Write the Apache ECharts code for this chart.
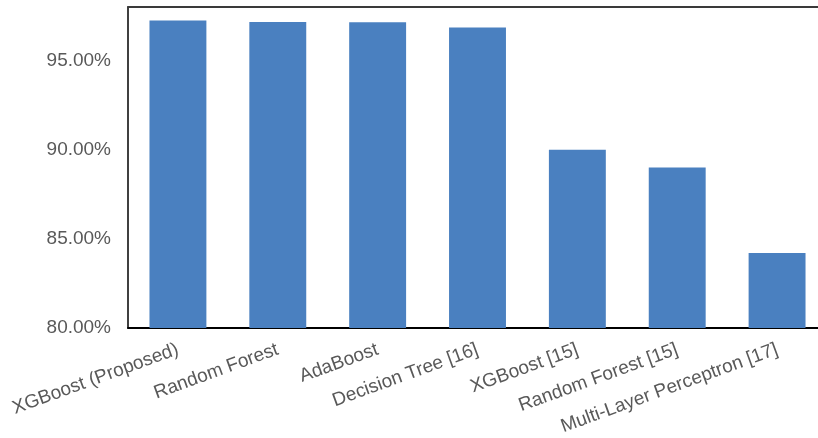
<!DOCTYPE html>
<html>
<head>
<meta charset="utf-8">
<script src="https://cdn.jsdelivr.net/npm/echarts@6/dist/echarts.min.js"></script>
<style>
  html, body { margin: 0; padding: 0; background: #fff; overflow: hidden; }
  /* the plot area runs a little past the right edge of the window */
  #chart { width: 827px; height: 438px; }
</style>
</head>
<body>
<div id="chart"></div>
<script>
// Model names and their accuracy (%)
const models = [
  'XGBoost (Proposed)',
  'Random Forest',
  'AdaBoost',
  'Decision Tree [16]',
  'XGBoost [15]',
  'Random Forest [15]',
  'Multi-Layer Perceptron [17]'
];
const accuracy = [97.24, 97.16, 97.15, 96.85, 90.0, 89.0, 84.2];

// Value axis range
const yMin = 80;
const yMax = 98;
const yStep = 5;

const chart = echarts.init(document.getElementById('chart'), null, { renderer: 'canvas' });

const labelFont = 'Liberation Sans, Arial, sans-serif';

chart.setOption({
  animation: false,
  backgroundColor: '#ffffff',
  grid: { left: 128, right: 0, top: 7, bottom: 110 },
  xAxis: [
    {
      type: 'category',
      data: models,
      axisLine: { show: true, lineStyle: { color: '#000000', width: 2 } },
      axisTick: { show: false },
      axisLabel: {
        interval: 0,
        rotate: 20,
        margin: 21,
        color: '#595959',
        fontFamily: labelFont,
        fontSize: 19
      }
    },
    {
      type: 'category',
      position: 'top',
      data: models,
      axisLine: { show: true, lineStyle: { color: '#3a3a3a', width: 2 } },
      axisTick: { show: false },
      axisLabel: { show: false }
    }
  ],
  yAxis: {
    type: 'value',
    min: yMin,
    max: yMax,
    interval: yStep,
    axisLine: { show: true, lineStyle: { color: '#000000', width: 1.5 } },
    axisTick: { show: false },
    splitLine: { show: false },
    axisLabel: {
      showMaxLabel: false,
      margin: 17,
      color: '#595959',
      fontFamily: labelFont,
      fontSize: 19,
      formatter: v => v.toFixed(2) + '%'
    }
  },
  series: [{
    type: 'bar',
    data: accuracy,
    barWidth: '57%',
    itemStyle: { color: '#4a80c0' }
  }]
});
</script>
</body>
</html>
